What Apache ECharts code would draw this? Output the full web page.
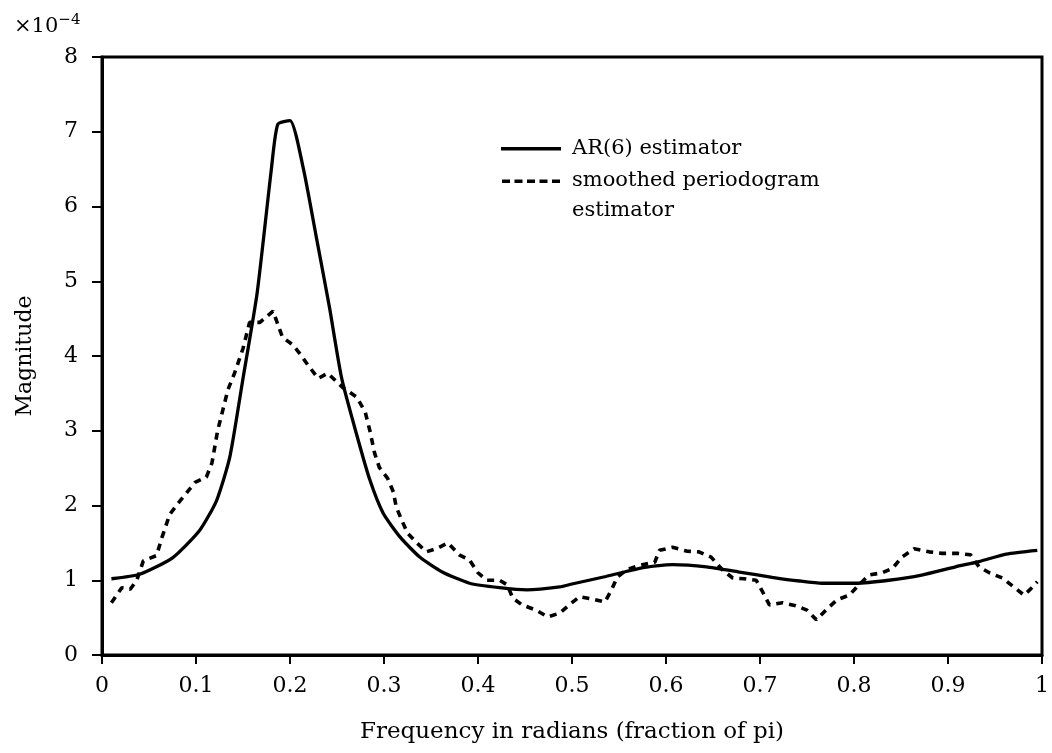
<!DOCTYPE html>
<html>
<head>
<meta charset="utf-8">
<script src="https://cdn.jsdelivr.net/npm/echarts@6/dist/echarts.min.js"></script>
<style>html,body{margin:0;padding:0;background:#fff}#c{width:1052px;height:753px}</style>
</head>
<body>
<div id="c"></div>
<script>
// AR(6) estimator (frequency as fraction of pi, magnitude x1e-4)
const arFreq = [0.01,0.04,0.075,0.104,0.122,0.136,0.15,0.165,0.18,0.187,0.2,0.214,0.228,0.242,0.255,0.272,0.285,0.299,0.317,0.338,0.362,0.391,0.423,0.452,0.487,0.5,0.536,0.572,0.607,0.643,0.678,0.713,0.742,0.766,0.802,0.837,0.872,0.908,0.933,0.962,0.995];
const arMag  = [1.02,1.08,1.3,1.67,2.07,2.65,3.7,4.84,6.48,7.1,7.15,6.52,5.59,4.65,3.7,2.9,2.34,1.9,1.58,1.31,1.11,0.96,0.9,0.87,0.91,0.95,1.05,1.16,1.21,1.18,1.11,1.04,0.99,0.96,0.96,1.0,1.07,1.18,1.25,1.35,1.4];
// smoothed periodogram estimator
const pgFreq = [0.01,0.021,0.03,0.037,0.044,0.058,0.064,0.072,0.081,0.09,0.099,0.111,0.117,0.123,0.129,0.134,0.141,0.15,0.157,0.168,0.182,0.192,0.203,0.21,0.219,0.23,0.24,0.256,0.271,0.28,0.285,0.29,0.295,0.304,0.31,0.313,0.319,0.325,0.335,0.345,0.357,0.368,0.38,0.391,0.4,0.409,0.423,0.431,0.437,0.447,0.462,0.474,0.487,0.497,0.508,0.521,0.535,0.542,0.548,0.558,0.572,0.588,0.593,0.607,0.622,0.635,0.648,0.66,0.671,0.683,0.696,0.703,0.71,0.724,0.738,0.75,0.76,0.77,0.782,0.795,0.803,0.816,0.83,0.841,0.851,0.864,0.88,0.894,0.91,0.924,0.933,0.944,0.958,0.97,0.981,0.99,0.995];
const pgMag  = [0.7,0.9,0.88,1.0,1.26,1.33,1.58,1.88,2.03,2.17,2.31,2.38,2.57,3.0,3.3,3.55,3.77,4.1,4.45,4.45,4.6,4.25,4.15,4.04,3.88,3.7,3.77,3.58,3.45,3.25,3.0,2.7,2.51,2.36,2.18,1.98,1.8,1.63,1.5,1.38,1.43,1.5,1.34,1.27,1.1,1.0,1.0,0.94,0.76,0.67,0.6,0.51,0.56,0.67,0.78,0.75,0.71,0.87,1.04,1.14,1.2,1.24,1.4,1.44,1.39,1.38,1.31,1.14,1.03,1.02,1.0,0.84,0.67,0.7,0.66,0.6,0.47,0.6,0.74,0.8,0.91,1.07,1.1,1.16,1.31,1.42,1.38,1.36,1.36,1.34,1.18,1.1,1.03,0.91,0.8,0.91,0.98];
const xTicks = [0,0.1,0.2,0.3,0.4,0.5,0.6,0.7,0.8,0.9,1];
const yTicks = [0,1,2,3,4,5,6,7,8];
const seriesNames = ['AR(6) estimator', 'smoothed periodogram\nestimator'];

const FONT = 'DejaVu Serif';
// legend icons: solid bar centred, dashes aligned with first text line
const solidIcon = 'path://M0,0h0v0h0z M0,15h60v3.4h-60z M0,33h0v0h0z';
const dashIcon = 'path://M0,0h8v3.6h-8z M12.5,0h8v3.6h-8z M25,0h8v3.6h-8z M37.5,0h8v3.6h-8z M50,0h8v3.6h-8z M0,33h0v0h0z';

const chart = echarts.init(document.getElementById('c'), null, {renderer: 'canvas'});
chart.setOption({
  animation: false,
  backgroundColor: '#fff',
  title: {
    text: '×10{s|−4}',
    left: 9, top: 8,
    textStyle: {fontFamily: FONT, fontSize: 21, fontWeight: 'normal', color: '#000',
      rich: {s: {fontFamily: FONT, fontSize: 15, verticalAlign: 'top', padding: [0,0,12,0], color:'#000'}}}
  },
  legend: {
    orient: 'vertical', left: 496, top: 127, itemWidth: 60, itemHeight: 33, itemGap: 1,
    textStyle: {fontFamily: FONT, fontSize: 21, color: '#000', lineHeight: 30, padding: [0,0,0,6]},
    data: [
      {name: seriesNames[0], icon: solidIcon, itemStyle: {color: '#000'}},
      {name: seriesNames[1], icon: dashIcon, itemStyle: {color: '#000'}}
    ]
  },
  grid: {left: 102, right: 9, top: 57, bottom: 98, show: true, borderColor: '#000', borderWidth: 3},
  xAxis: {
    type: 'value', min: 0, max: 1, interval: 0.1,
    name: 'Frequency in radians (fraction of pi)', nameLocation: 'middle', nameGap: 66,
    nameTextStyle: {fontFamily: FONT, fontSize: 23, color: '#000'},
    axisLine: {lineStyle: {color: '#000', width: 3}},
    axisTick: {length: 9, lineStyle: {color: '#000', width: 2}},
    axisLabel: {fontFamily: FONT, fontSize: 22, color: '#000', margin: 20,
      formatter: v => xTicks.includes(+v.toFixed(1)) ? String(+v.toFixed(1)) : ''},
    splitLine: {show: false}
  },
  yAxis: {
    type: 'value', min: 0, max: 8, interval: 1,
    name: 'Magnitude', nameLocation: 'middle', nameGap: 66,
    nameTextStyle: {fontFamily: FONT, fontSize: 22, color: '#000'},
    axisLine: {lineStyle: {color: '#000', width: 3}},
    axisTick: {length: 10, lineStyle: {color: '#000', width: 2}},
    axisLabel: {fontFamily: FONT, fontSize: 22, color: '#000', margin: 24,
      formatter: v => yTicks.includes(v) ? String(v) : ''},
    splitLine: {show: false}
  },
  series: [
    {name: seriesNames[0], type: 'line', symbol: 'none', smooth: 0.2,
      data: arFreq.map((f, i) => [f, arMag[i]]),
      lineStyle: {color: '#000', width: 3.3, type: 'solid'}, itemStyle: {color: '#000'}},
    {name: seriesNames[1], type: 'line', symbol: 'none', smooth: false,
      data: pgFreq.map((f, i) => [f, pgMag[i]]),
      lineStyle: {color: '#000', width: 3.6, type: [7, 6]}, itemStyle: {color: '#000'}}
  ]
});
</script>
</body>
</html>
